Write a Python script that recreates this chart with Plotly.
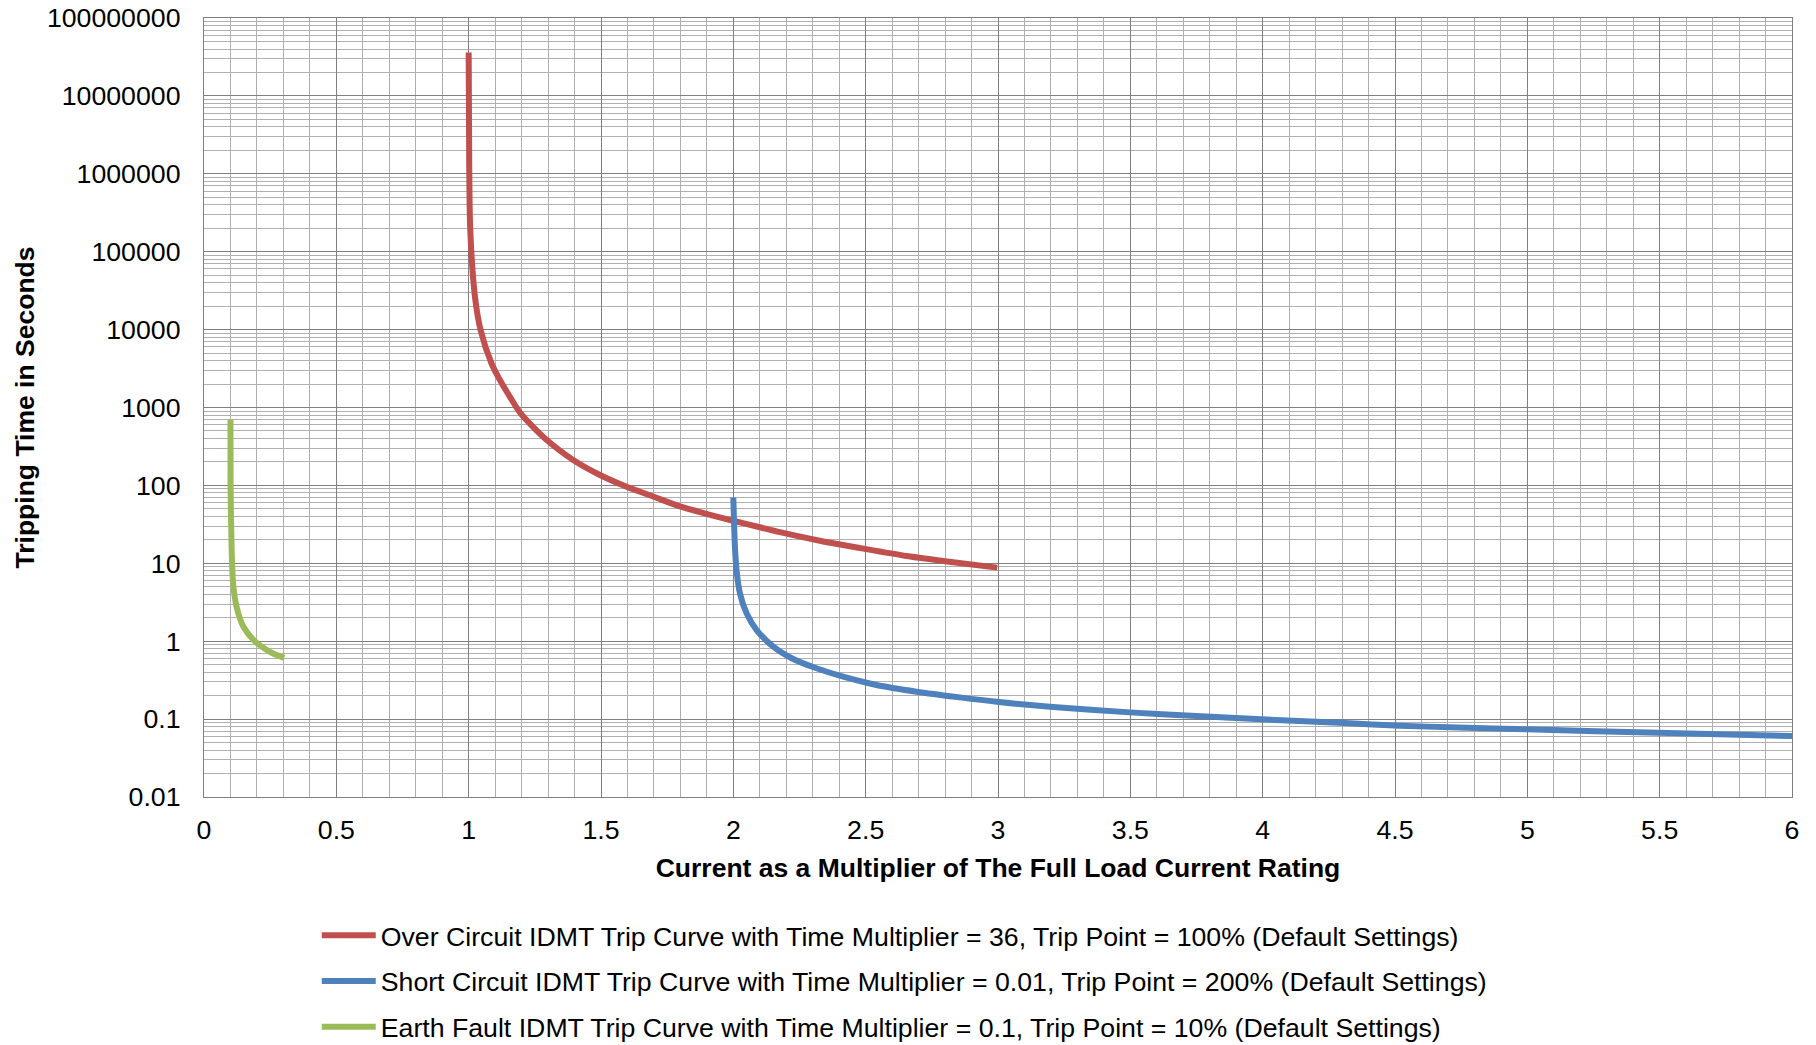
import plotly.graph_objects as go

# values
oc_x = [1.0, 1.002, 1.006, 1.024, 1.045, 1.086, 1.118, 1.16, 1.194, 1.244, 1.295, 1.395,
        1.496, 1.597, 1.697, 1.798, 1.898, 1.999, 2.10, 2.176, 2.327, 2.497, 2.655, 2.831, 2.997]
oc_t = [3.6e7, 1.38e6, 1.9e5, 2.6e4, 9.9e3, 3.7e3, 2.25e3, 1.3e3, 860, 560, 383, 212,
        136, 96, 72, 53.7, 43.2, 35.2, 29, 25.1, 19.5, 15.3, 12.4, 10.3, 8.8]

sc_x = [2.0, 2.006, 2.012, 2.025, 2.05, 2.088, 2.151, 2.226, 2.314, 2.415, 2.541, 2.692,
        2.856, 2.995, 3.196, 3.498, 3.75, 3.996, 4.33, 4.52, 4.707, 4.997, 5.495, 6.0]
sc_t = [70, 16.3, 8.2, 4.1, 2.28, 1.39, 0.85, 0.59, 0.449, 0.35, 0.274, 0.225,
        0.19, 0.167, 0.144, 0.122, 0.110, 0.0993, 0.0883, 0.0822, 0.0785, 0.074, 0.0668, 0.0607]

ef_x = [0.1, 0.1003, 0.1045, 0.11, 0.123, 0.149, 0.193, 0.249, 0.303]
ef_t = [692, 106, 14.8, 5.5, 2.77, 1.53, 0.99, 0.73, 0.61]

names = [
    "Over Circuit IDMT Trip Curve with Time Multiplier = 36, Trip Point = 100% (Default Settings)",
    "Short Circuit IDMT Trip Curve with Time Multiplier = 0.01, Trip Point = 200% (Default Settings)",
    "Earth Fault IDMT Trip Curve with Time Multiplier = 0.1, Trip Point = 10% (Default Settings)",
]
colors = ["#C0504D", "#4F81BD", "#9BBB59"]

y_tickvals = [0.01, 0.1, 1, 10, 100, 1000, 10000, 100000, 1000000, 10000000, 100000000]
y_ticktext = ["0.01", "0.1", "1", "10", "100", "1000", "10000", "100000",
              "1000000", "10000000", "100000000"]

FONT = "Liberation Sans, Arial, sans-serif"
MAJOR = "#7f7f7f"
MINOR = "#b0b0b0"

fig = go.Figure()
for i, (xs, ts) in enumerate([(oc_x, oc_t), (sc_x, sc_t), (ef_x, ef_t)]):
    fig.add_trace(
        go.Scatter(
            x=xs,
            y=ts,
            mode="lines",
            line=dict(color=colors[i], width=6, shape="spline", smoothing=0.8),
            name=names[i],
            legendgroup=str(i),
        )
    )

minor_y = [k * 10.0 ** d for d in range(-2, 8) for k in range(2, 10)]

fig.update_xaxes(
    range=[0, 6],
    dtick=0.5,
    showgrid=True,
    gridcolor=MAJOR,
    gridwidth=1.3,
    minor=dict(dtick=0.1, showgrid=True, gridcolor=MINOR, gridwidth=1.3),
    showline=True,
    linecolor=MAJOR,
    linewidth=1.3,
    mirror=True,
    zeroline=False,
    automargin=False,
    ticks="",
    tickfont=dict(size=26.7, color="#000000", family=FONT),
    ticklabelstandoff=9,
    ticklabeloverflow="allow",
    title=dict(
        text="<b>Current as a Multiplier of The Full Load Current Rating</b>",
        font=dict(size=26.5, color="#000000", family=FONT),
        standoff=14,
    ),
)
fig.update_yaxes(
    type="log",
    range=[-2, 8],
    tickvals=y_tickvals,
    ticktext=y_ticktext,
    showgrid=True,
    gridcolor=MAJOR,
    gridwidth=1.3,
    minor=dict(tickvals=minor_y, showgrid=True, gridcolor=MINOR, gridwidth=1.3),
    showline=True,
    linecolor=MAJOR,
    linewidth=1.3,
    mirror=True,
    zeroline=False,
    automargin=False,
    ticks="",
    tickfont=dict(size=26.7, color="#000000", family=FONT),
    ticklabelstandoff=17,
    ticklabeloverflow="allow",
    title=dict(
        text="<b>Tripping Time in Seconds</b>",
        font=dict(size=26.5, color="#000000", family=FONT),
        standoff=4,
    ),
)

fig.update_layout(
    width=1816,
    height=1045,
    margin=dict(l=204, r=24, t=18, b=248, autoexpand=False),
    paper_bgcolor="white",
    plot_bgcolor="white",
    font=dict(family=FONT, color="#000000"),
    showlegend=True,
    legend=dict(
        x=0.071,
        y=-0.147,
        xanchor="left",
        yanchor="top",
        orientation="v",
        traceorder="grouped",
        tracegroupgap=8,
        itemwidth=54,
        font=dict(size=26.7, color="#000000", family=FONT),
        bgcolor="rgba(0,0,0,0)",
    ),
)

# drop the page's default 8px body margin so the figure fills the window
fig.write_html(
    "out.html",
    config={"displayModeBar": False},
    post_script="document.body.style.margin='0';",
)
